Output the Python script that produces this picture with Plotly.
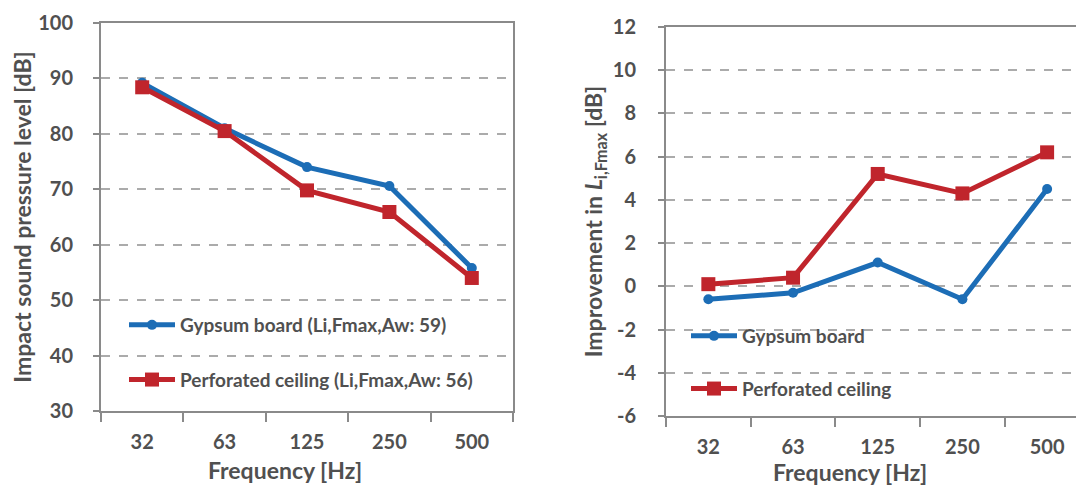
import plotly.graph_objects as go

categories = ["32", "63", "125", "250", "500"]
left_gypsum = [89.2, 81.0, 74.0, 70.6, 55.8]
left_perforated = [88.4, 80.5, 69.8, 65.9, 54.0]
right_gypsum = [-0.6, -0.3, 1.1, -0.6, 4.5]
right_perforated = [0.1, 0.4, 5.2, 4.3, 6.2]
left_names = ["Gypsum board (Li,Fmax,Aw: 59)", "Perforated ceiling (Li,Fmax,Aw: 56)"]
right_names = ["Gypsum board", "Perforated ceiling"]
right_tick_values = [-6, -4, -2, 0, 2, 4, 6, 8, 10, 12]
right_tick_labels = ["-6", "-4", "-2", "0", "2", "4", "6", "8", "10", "12"]

BLUE = "#1C6DB6"
RED = "#C0252C"
TXT = "#505050"
GRID = "#ABABAB"
AX = "#8A8A8A"
FONT = "Lato"

fig = go.Figure()

fig.add_trace(go.Scatter(x=categories, y=left_gypsum, name=left_names[0], mode="lines+markers",
                         line=dict(color=BLUE, width=5), marker=dict(symbol="circle", size=10, color=BLUE),
                         xaxis="x", yaxis="y", legend="legend", legendgroup="a"))
fig.add_trace(go.Scatter(x=categories, y=left_perforated, name=left_names[1], mode="lines+markers",
                         line=dict(color=RED, width=5), marker=dict(symbol="square", size=14, color=RED),
                         xaxis="x", yaxis="y", legend="legend", legendgroup="b"))
fig.add_trace(go.Scatter(x=categories, y=right_gypsum, name=right_names[0], mode="lines+markers",
                         line=dict(color=BLUE, width=5), marker=dict(symbol="circle", size=10, color=BLUE),
                         xaxis="x2", yaxis="y2", legend="legend2", legendgroup="c"))
fig.add_trace(go.Scatter(x=categories, y=right_perforated, name=right_names[1], mode="lines+markers",
                         line=dict(color=RED, width=5), marker=dict(symbol="square", size=14, color=RED),
                         xaxis="x2", yaxis="y2", legend="legend2", legendgroup="d"))

W, H = 1084, 485
OFF = 8  # page body margin

def px_x(v):
    return (v - OFF) / W

def px_y(v):
    return 1 - (v - OFF) / H

tickfont = dict(family=FONT, size=20, color=TXT, weight="bold")
titlefont = dict(family=FONT, size=23, color=TXT, weight="bold")
common_x = dict(type="category", showline=True, linecolor=AX, linewidth=2, mirror=True,
                ticks="outside", ticklen=9, tickwidth=2, tickcolor=AX, tickson="boundaries",
                showgrid=False, tickfont=tickfont, ticklabelstandoff=12, zeroline=False,
                automargin=False)
common_y = dict(showline=True, linecolor=AX, linewidth=2, mirror=True,
                ticks="outside", ticklen=6, tickwidth=2, tickcolor=AX,
                showgrid=True, gridcolor=GRID, gridwidth=1.5, griddash="dash",
                tickfont=tickfont, zeroline=False, automargin=False)

fig.update_layout(
    width=W, height=H,
    margin=dict(l=0, r=0, t=0, b=0, autoexpand=False),
    paper_bgcolor="white", plot_bgcolor="white",
    font=dict(family=FONT, color=TXT),
    xaxis=dict(domain=[px_x(101), px_x(513)], anchor="y", range=[-0.5, 4.5], **common_x),
    yaxis=dict(domain=[px_y(411), px_y(23)], anchor="x", range=[30, 100], dtick=10,
               title=dict(text="Impact sound pressure level [dB]", font=titlefont, standoff=10),
               ticklabelstandoff=16, **common_y),
    xaxis2=dict(domain=[px_x(666), 1], anchor="y2", range=[-0.5, 4.53], **common_x),
    yaxis2=dict(domain=[px_y(416), px_y(27)], anchor="x2", range=[-6, 12],
                tickmode="array", tickvals=right_tick_values, ticktext=right_tick_labels,
                title=dict(text="Improvement in <i>L</i><sub>i,Fmax</sub> [dB]", font=titlefont, standoff=4),
                ticklabelstandoff=18, **common_y),
    legend=dict(x=px_x(124), y=px_y(306), xanchor="left", yanchor="top", bgcolor="rgba(0,0,0,0)",
                font=dict(family=FONT, size=19, color=TXT, weight="bold"), traceorder="grouped",
                tracegroupgap=27, itemwidth=46),
    legend2=dict(x=px_x(686), y=px_y(317), xanchor="left", yanchor="top", bgcolor="rgba(0,0,0,0)",
                 font=dict(family=FONT, size=19, color=TXT, weight="bold"), traceorder="grouped",
                 tracegroupgap=25, itemwidth=46),
    annotations=[
        dict(text="Frequency [Hz]", x=px_x(285), y=px_y(470), xref="paper", yref="paper",
             xanchor="center", yanchor="middle", showarrow=False, font=titlefont),
        dict(text="Frequency [Hz]", x=px_x(850), y=px_y(472), xref="paper", yref="paper",
             xanchor="center", yanchor="middle", showarrow=False, font=titlefont),
    ],
)

fig.write_html("out.html")
